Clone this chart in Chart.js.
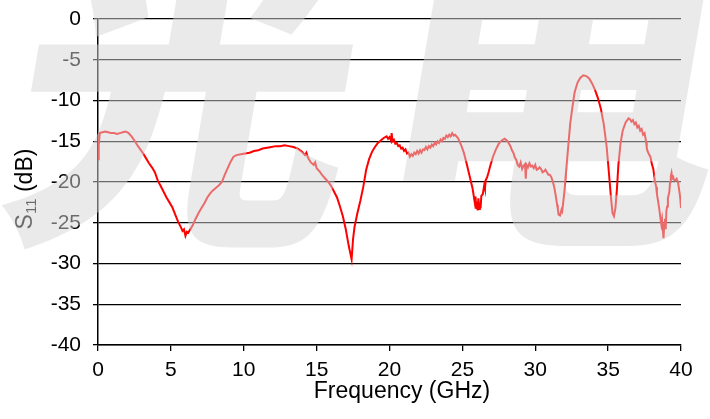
<!DOCTYPE html>
<html><head><meta charset="utf-8">
<script src="https://cdn.jsdelivr.net/npm/chart.js@4"></script>
<style>html,body{margin:0;padding:0;background:#fff;overflow:hidden}#wrap{width:710px;height:419px;position:relative}</style>
</head><body><div id="wrap"><canvas id="c" width="710" height="419"></canvas></div>
<script>
const freqGHz = [
0.00,0.05,0.12,0.3,0.5,0.7,0.9,1.1,1.3,1.5,1.7,1.9,2.1,2.3,2.5,2.7,2.9,3.1,3.3,3.5,3.7,3.9,
4.1,4.3,4.5,4.7,4.9,5.1,5.3,5.5,5.7,5.8,5.9,6.0,6.1,6.2,6.3,6.5,6.7,6.9,7.1,7.3,7.5,7.7,7.9,
8.1,8.3,8.5,8.7,8.9,9.1,9.3,9.5,9.8,10.1,10.4,10.7,11.0,11.3,11.6,11.9,12.2,12.5,12.8,13.1,
13.4,13.7,14.0,14.2,14.3,14.4,14.6,14.8,14.9,15.0,15.2,15.4,15.6,15.8,16.0,16.2,16.4,16.6,16.8,17.0,
17.2,17.4,17.5,17.6,17.8,18.0,18.2,18.4,18.6,18.8,19.0,19.2,19.4,19.6,19.8,19.9,20.0,20.1,20.15,20.2,
20.3,20.4,20.5,20.6,20.7,20.8,20.9,21.0,21.1,21.2,21.3,21.4,21.5,21.6,21.7,21.8,21.9,22.0,22.1,22.2,22.3,
22.4,22.5,22.6,22.7,22.8,22.9,23.0,23.1,23.2,23.3,23.4,23.5,23.6,23.7,23.8,
23.9,24.0,24.1,24.2,24.3,24.4,24.5,24.7,24.9,25.1,25.3,25.5,25.7,25.85,25.9,25.95,26.0,26.05,26.1,26.15,26.2,26.25,26.3,26.4,26.5,26.55,26.6,26.7,
26.8,26.9,27.0,27.1,27.3,27.5,27.7,27.9,28.1,28.3,28.4,28.5,28.6,28.7,28.8,28.9,29.0,29.1,29.2,29.3,29.35,29.4,29.5,29.6,29.7,29.8,29.9,30.0,
30.1,30.2,30.3,30.4,30.5,30.6,30.7,30.8,30.9,31.0,31.1,31.2,31.3,31.4,31.5,31.55,31.6,31.7,31.8,31.85,32.0,32.1,32.25,32.4,32.55,32.7,32.9,
33.1,33.3,33.5,33.7,33.9,34.1,34.3,34.5,34.7,34.9,35.05,35.2,35.3,35.4,35.5,35.6,35.7,35.85,
36.0,36.2,36.4,36.5,36.6,36.7,36.8,36.9,37.0,37.1,37.2,37.3,37.4,37.5,37.6,37.65,37.7,37.8,37.9,38.0,38.1,38.2,38.3,38.35,38.45,38.5,38.6,38.65,38.7,38.8,
38.85,38.9,38.95,39.0,39.05,39.1,39.2,39.25,39.3,39.35,39.4,39.45,39.5,39.6,39.7,39.8,39.9,39.95,40.0];
const s11dB = [
-17.2,-15.5,-14.0,-13.9,-13.8,-13.9,-14.0,-14.0,-14.1,-14.0,-13.9,-13.8,-14.0,-14.4,-14.9,-15.5,-16.0,-16.5,-17.1,-17.7,-18.2,-18.8,
-19.8,-20.5,-21.2,-21.9,-22.5,-23.1,-24.0,-24.9,-25.6,-26.0,-25.8,-26.6,-26.1,-26.2,-25.9,-25.3,-24.5,-23.8,-23.2,-22.6,-21.9,-21.4,-21.0,
-20.7,-20.4,-20.0,-19.1,-18.3,-17.5,-16.9,-16.7,-16.6,-16.5,-16.4,-16.2,-16.1,-15.9,-15.8,-15.7,-15.6,-15.6,-15.5,-15.6,
-15.7,-15.9,-16.3,-16.7,-16.4,-17.0,-17.6,-17.9,-17.6,-18.3,-18.7,-19.2,-19.6,-20.0,-20.5,-21.2,-21.9,-23.0,-24.2,-25.8,
-27.8,-29.5,-27.0,-25.5,-23.8,-22.3,-20.6,-18.5,-17.2,-16.3,-15.7,-15.2,-14.9,-14.6,-14.4,-14.7,-14.5,-14.9,-14.0,-15.0,
-14.8,-15.3,-15.2,-15.6,-15.5,-15.9,-15.8,-16.2,-16.0,-16.5,-16.4,-16.9,-16.6,-16.8,-16.4,-16.6,-16.2,-16.5,-16.1,-16.4,-16.0,
-16.1,-15.7,-16.0,-15.6,-15.8,-15.4,-15.6,-15.2,-15.4,-15.0,-15.2,-14.8,-15.0,-14.6,-14.7,
-14.3,-14.5,-14.2,-14.4,-14.0,-14.3,-14.2,-14.6,-15.4,-16.4,-17.8,-19.3,-20.8,-22.5,-21.8,-23.2,-22.4,-23.5,-22.0,-23.3,-22.5,-23.2,-21.7,-21.5,-20.4,-20.8,-19.8,-19.4,
-18.8,-18.1,-17.5,-16.9,-16.0,-15.3,-14.9,-14.7,-15.0,-15.6,-16.1,-16.4,-17.0,-17.3,-17.9,-18.1,-17.6,-18.4,-18.0,-17.8,-19.6,-17.9,-18.2,-17.7,-18.1,-18.0,-18.3,-17.9,
-18.5,-18.4,-18.2,-18.4,-18.8,-18.7,-18.5,-18.8,-19.1,-19.1,-19.4,-19.9,-20.6,-21.6,-22.8,-23.3,-24.0,-24.1,-23.4,-23.6,-21.2,-19.0,-15.9,-12.8,-10.8,-9.0,-7.8,
-7.2,-6.9,-7.0,-7.3,-7.9,-8.7,-9.7,-11.0,-12.9,-15.7,-18.8,-22.0,-23.8,-24.2,-23.2,-21.0,-18.0,-15.3,
-13.7,-12.7,-12.2,-12.3,-12.6,-12.4,-12.9,-12.7,-13.3,-13.1,-13.7,-13.5,-14.2,-14.0,-15.0,-15.8,-16.2,-16.6,-16.9,-17.8,-18.4,-19.8,-20.6,-21.5,-22.6,-23.2,-24.6,-25.2,-24.6,-26.9,
-25.2,-24.5,-25.8,-23.5,-23.0,-22.0,-21.2,-20.0,-19.3,-18.9,-19.6,-19.2,-19.7,-19.8,-19.6,-20.1,-21.3,-22.0,-23.2];
const xTickValues = [0,5,10,15,20,25,30,35,40];
const yTickValues = [0,-5,-10,-15,-20,-25,-30,-35,-40];
const xTitle = 'Frequency (GHz)';
const yTitleMain = 'S';
const yTitleSub = '11';
const yTitleRest = ' (dB)';
const watermarkChars = ['光', '电'];

const points = freqGHz.map((f, i) => ({x: f, y: s11dB[i]}));

const titlesPlugin = {
  id: 'titles',
  afterDraw(chart) {
    const ctx = chart.ctx;
    ctx.save();
    ctx.fillStyle = '#000';
    ctx.font = '23px "Liberation Sans", Arial, sans-serif';
    ctx.textAlign = 'center';
    ctx.textBaseline = 'alphabetic';
    ctx.fillText(xTitle, 402, 398);
    ctx.translate(32, 189);
    ctx.rotate(-Math.PI / 2);
    const fMain = '23px "Liberation Sans", Arial, sans-serif';
    const fSub = '15px "Liberation Sans", Arial, sans-serif';
    ctx.font = fMain; const w1 = ctx.measureText(yTitleMain).width;
    const w3 = ctx.measureText(yTitleRest).width;
    ctx.font = fSub; const w2 = ctx.measureText(yTitleSub).width;
    let x = -(w1 + w2 + w3) / 2;
    ctx.textAlign = 'left';
    ctx.font = fMain; ctx.fillText(yTitleMain, x, 0); x += w1;
    ctx.font = fSub; ctx.fillText(yTitleSub, x, 4); x += w2;
    ctx.font = fMain; ctx.fillText(yTitleRest, x, 0);
    ctx.restore();
    const offsets = [-6, 362];
    watermarkChars.forEach((ch, i) => {
      ctx.save();
      ctx.globalAlpha = 0.5;
      ctx.fillStyle = 'rgb(214,214,214)';
      ctx.font = '900 345px "Noto Sans CJK SC", sans-serif';
      ctx.textAlign = 'left';
      ctx.textBaseline = 'alphabetic';
      ctx.translate(offsets[i], 216);
      ctx.transform(1, 0, -0.17, 1, 0, 0);
      ctx.fillText(ch, 0, 0);
      ctx.restore();
    });
  }
};

new Chart(document.getElementById('c'), {
  type: 'line',
  data: { datasets: [{ data: points, borderColor: '#ff0000', borderWidth: 2, pointRadius: 0, tension: 0, fill: false }] },
  options: {
    responsive: false,
    animation: false,
    devicePixelRatio: 1,
    layout: { padding: { left: 0, right: 29, top: 19, bottom: 0 } },
    plugins: { legend: { display: false }, tooltip: { enabled: false } },
    scales: {
      x: {
        type: 'linear', min: 0, max: 40,
        afterBuildTicks(s) { s.ticks = xTickValues.map(v => ({value: v})); },
        afterFit(s) { s.height = 74; s.paddingLeft = 0; s.paddingRight = 0; },
        ticks: { color: '#000', font: { size: 21, family: '"Liberation Sans", Arial, sans-serif' }, padding: 7, maxRotation: 0 },
        grid: { display: true, drawOnChartArea: false, drawTicks: true, tickLength: 6, color: '#000', lineWidth: 1.3 },
        border: { display: true, color: '#000', width: 1.5 }
      },
      y: {
        type: 'linear', min: -40, max: 0,
        afterBuildTicks(s) { s.ticks = yTickValues.slice().reverse().map(v => ({value: v})); },
        afterFit(s) { s.width = 98; s.paddingTop = 0; s.paddingBottom = 0; },
        ticks: { color: '#000', font: { size: 21, family: '"Liberation Sans", Arial, sans-serif' }, padding: 12 },
        grid: { display: true, drawTicks: true, tickLength: 5, color: '#000', lineWidth: 1.3 },
        border: { display: true, color: '#000', width: 1.5 }
      }
    }
  },
  plugins: [titlesPlugin]
});
</script>
</body></html>
